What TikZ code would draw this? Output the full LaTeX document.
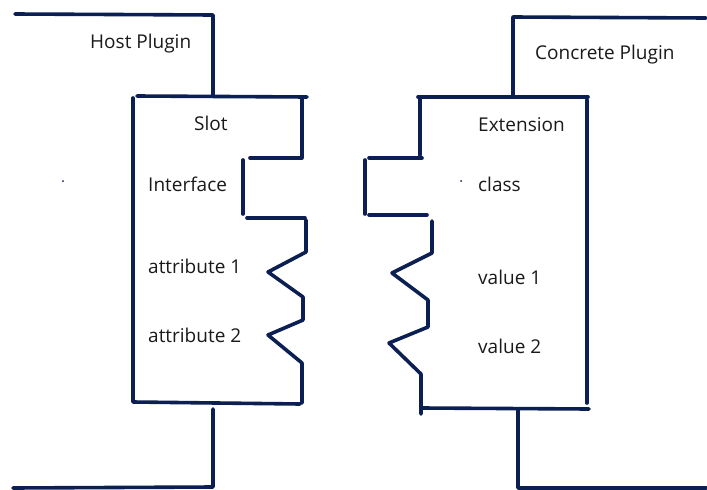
\documentclass[tikz,border=0pt]{standalone}
\usepackage{fontspec}
\setmainfont{Open Sans}
\definecolor{ink}{HTML}{0B1F52}
\definecolor{txt}{HTML}{1A1A1A}
\begin{document}
\begin{tikzpicture}[x=1pt,y=-1pt,
  stroke/.style={draw=ink,line width=3.6pt,line cap=round,line join=round},
  lbl/.style={anchor=base west,inner sep=0pt,text=txt,font=\fontsize{19}{22}\selectfont}]
\useasboundingbox[fill=white] (0,0) rectangle (707,490);

% host plugin frame
\draw[stroke] (15,14) -- (213,15) -- (213,95);
\draw[stroke] (213,409) -- (213,487) -- (13,488);

% slot outline
\draw[stroke] (137,96) -- (307,97);
\draw[stroke] (133,98) -- (133,401);
\draw[stroke] (133,402) -- (300,404);
\draw[stroke] (302,99) -- (302,157);
\draw[stroke] (250,158) -- (302,158);
\draw[stroke] (243,160) -- (243,214);
\draw[stroke] (247,218) -- (305,218);
\draw[stroke] (306,220) -- (306,252) -- (268,272) -- (303,297) -- (303,320)
  -- (268,335) -- (302,363) -- (302,403);

% concrete plugin frame
\draw[stroke] (513,95) -- (513,17) -- (706,18);
\draw[stroke] (518,410) -- (518,488) -- (706,488);

% extension outline
\draw[stroke] (418,97) -- (588,97);
\draw[stroke] (420,99) -- (420,155);
\draw[stroke] (369,158) -- (422,158);
\draw[stroke] (365,160) -- (365,214);
\draw[stroke] (369,215) -- (427,215);
\draw[stroke] (432,221) -- (432,253) -- (392,273) -- (428,300) -- (428,327)
  -- (389,343) -- (421,374) -- (421,414);
\draw[stroke] (587,100) -- (587,403);
\draw[stroke] (422,408) -- (589,409);

% specks
\fill[ink] (63,181) circle (1pt);
\fill[ink] (461,181) circle (1pt);

% labels
\node[lbl] (host) at (90,48) {Host Plugin};
\node[lbl] (slot) at (194,130) {Slot};
\node[lbl] (iface) at (148,191) {Interface};
\node[lbl] (attra) at (148,273) {attribute 1};
\node[lbl] (attrb) at (148,342) {attribute 2};
\node[lbl] (conc) at (535,59) {Concrete Plugin};
\node[lbl] (ext) at (478,131) {Extension};
\node[lbl] (cls) at (478,191) {class};
\node[lbl] (vala) at (478,284) {value 1};
\node[lbl] (valb) at (478,353) {value 2};
\end{tikzpicture}
\end{document}
